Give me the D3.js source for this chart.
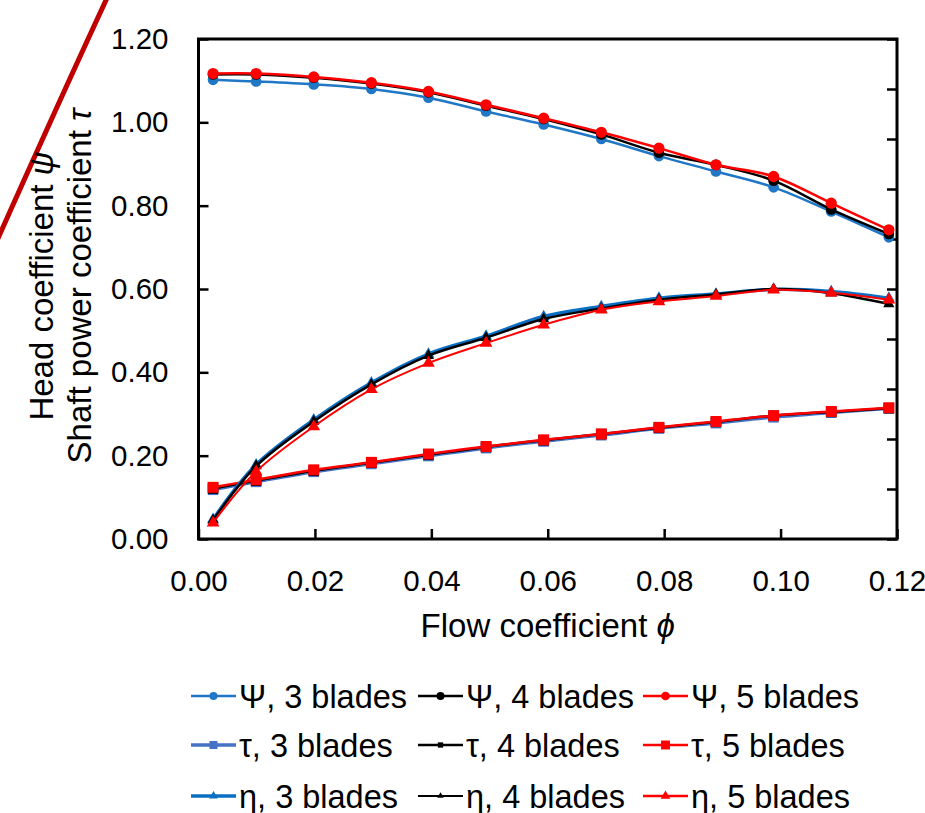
<!DOCTYPE html>
<html>
<head>
<meta charset="utf-8">
<script src="https://cdn.jsdelivr.net/npm/d3@7/dist/d3.min.js"></script>
<style>
  body { margin: 0; background: #fff; }
  text { font-family: "Liberation Sans", Arial, sans-serif; fill: #000; }
</style>
</head>
<body>
<div id="chart"></div>
<script>
// flow coefficient at each measured point
var phi = [0.0025, 0.0099, 0.0198, 0.0297, 0.0395, 0.0494, 0.0593, 0.0692, 0.0791, 0.0889, 0.0988, 0.1087, 0.1186];

// head coefficient psi
var psi3 = [1.102, 1.098, 1.091, 1.080, 1.059, 1.026, 0.995, 0.960, 0.919, 0.882, 0.844, 0.786, 0.724];
var psi4 = [1.115, 1.115, 1.107, 1.093, 1.072, 1.040, 1.008, 0.971, 0.927, 0.898, 0.860, 0.791, 0.732];
var psi5 = [1.117, 1.117, 1.109, 1.095, 1.074, 1.042, 1.010, 0.976, 0.938, 0.898, 0.870, 0.806, 0.742];

// shaft power coefficient tau
var tau3 = [0.118, 0.137, 0.161, 0.180, 0.199, 0.218, 0.234, 0.249, 0.265, 0.278, 0.292, 0.303, 0.313];
var tau4 = [0.121, 0.140, 0.164, 0.183, 0.202, 0.221, 0.237, 0.252, 0.267, 0.281, 0.296, 0.305, 0.314];
var tau5 = [0.124, 0.142, 0.166, 0.184, 0.204, 0.222, 0.238, 0.252, 0.268, 0.282, 0.296, 0.306, 0.315];

// efficiency eta
var eta3 = [0.047, 0.178, 0.286, 0.375, 0.444, 0.487, 0.534, 0.558, 0.578, 0.588, 0.599, 0.594, 0.578];
var eta4 = [0.045, 0.175, 0.282, 0.371, 0.440, 0.483, 0.528, 0.553, 0.574, 0.587, 0.600, 0.590, 0.564];
var eta5 = [0.039, 0.162, 0.270, 0.359, 0.422, 0.470, 0.514, 0.550, 0.570, 0.583, 0.598, 0.591, 0.574];

var xTicks = [0, 0.02, 0.04, 0.06, 0.08, 0.10, 0.12];
var yTicks = [0, 0.2, 0.4, 0.6, 0.8, 1.0, 1.2];
var y2Ticks = [0, 0.1, 0.2, 0.3, 0.4, 0.5, 0.6, 0.7, 0.8, 0.9, 1.0];

var series = [
  { label: "\u03A8, 3 blades", values: psi3, color: "#1f77c6", shape: d3.symbolCircle, size: 90, lw: 2.5, legSize: 50, legLw: 2.5 },
  { label: "\u03A8, 4 blades", values: psi4, color: "#000000", shape: d3.symbolCircle, size: 90, lw: 2.5, legSize: 50, legLw: 2.5 },
  { label: "\u03A8, 5 blades", values: psi5, color: "#ff0000", shape: d3.symbolCircle, size: 100, lw: 2.5, legSize: 60, legLw: 2.5 },
  { label: "\u03C4, 3 blades", values: tau3, color: "#4472c4", shape: d3.symbolSquare, size: 110, lw: 3, legSize: 64, legLw: 3.5 },
  { label: "\u03C4, 4 blades", values: tau4, color: "#000000", shape: d3.symbolSquare, size: 110, lw: 2.5, legSize: 28, legLw: 2.5 },
  { label: "\u03C4, 5 blades", values: tau5, color: "#ff0000", shape: d3.symbolSquare, size: 120, lw: 2.5, legSize: 80, legLw: 2.5 },
  { label: "\u03B7, 3 blades", values: eta3, color: "#0a6fc2", shape: d3.symbolTriangle, size: 60, lw: 3.5, legSize: 32, legLw: 3.5 },
  { label: "\u03B7, 4 blades", values: eta4, color: "#000000", shape: d3.symbolTriangle, size: 55, lw: 2.5, legSize: 18, legLw: 2 },
  { label: "\u03B7, 5 blades", values: eta5, color: "#ff0000", shape: d3.symbolTriangle, size: 70, lw: 2, legSize: 40, legLw: 2.5 }
];

var width = 925, height = 813;
var plot = { left: 198.5, right: 897, top: 39, bottom: 539 };

var svg = d3.select("#chart").append("svg")
  .attr("width", width)
  .attr("height", height);

svg.append("rect").attr("width", width).attr("height", height).attr("fill", "#fff");

// decorative arc from the neighbouring figure
svg.append("path")
  .attr("d", "M107,-2 Q62,95 -5,245")
  .attr("fill", "none")
  .attr("stroke", "#c00000")
  .attr("stroke-width", 5);

var x = d3.scaleLinear().domain([0, 0.12]).range([plot.left, plot.right]);
var y = d3.scaleLinear().domain([0, 1.2]).range([plot.bottom, plot.top]);
var y2 = d3.scaleLinear().domain([0, 1]).range([plot.bottom, plot.top]);

// axes with inward ticks
var xAxis = svg.append("g")
  .attr("transform", "translate(0," + plot.bottom + ")")
  .call(d3.axisBottom(x).tickValues(xTicks).tickFormat(d3.format(".2f")).tickSize(-10).tickPadding(31));

var yAxis = svg.append("g")
  .attr("transform", "translate(" + plot.left + ",0)")
  .call(d3.axisLeft(y).tickValues(yTicks).tickFormat(d3.format(".2f")).tickSize(-10).tickPadding(30));

var y2Axis = svg.append("g")
  .attr("transform", "translate(" + plot.right + ",0)")
  .call(d3.axisLeft(y2).tickValues(y2Ticks).tickFormat("").tickSize(10));

[xAxis, yAxis, y2Axis].forEach(function(a) {
  a.select(".domain").remove();
  a.selectAll(".tick line").attr("stroke", "#000").attr("stroke-width", 2.5);
  a.selectAll(".tick text")
    .style("font-family", "'Liberation Sans', Arial, sans-serif")
    .attr("font-size", 29.5)
    .attr("fill", "#000");
});

svg.append("rect")
  .attr("x", plot.left)
  .attr("y", plot.top)
  .attr("width", plot.right - plot.left)
  .attr("height", plot.bottom - plot.top)
  .attr("fill", "none")
  .attr("stroke", "#000")
  .attr("stroke-width", 3);

// axis titles
var xTitle = svg.append("text")
  .attr("x", (plot.left + plot.right) / 2)
  .attr("y", 637)
  .attr("text-anchor", "middle")
  .attr("font-size", 33);
xTitle.append("tspan").text("Flow coefficient ");
xTitle.append("tspan").attr("font-style", "italic").text("\u03D5");

var cy = (plot.top + plot.bottom) / 2 - 3;
var t1 = svg.append("text")
  .attr("transform", "translate(53," + cy + ") rotate(-90)")
  .attr("text-anchor", "middle")
  .attr("font-size", 33);
t1.append("tspan").text("Head coefficient ");
t1.append("tspan").attr("font-style", "italic").text("\u03C8");

var t2 = svg.append("text")
  .attr("transform", "translate(91," + cy + ") rotate(-90)")
  .attr("text-anchor", "middle")
  .attr("font-size", 33);
t2.append("tspan").text("Shaft power coefficient ");
t2.append("tspan").attr("font-style", "italic").text("\u03C4");

// curves
var line = d3.line()
  .x(function(d) { return x(d[0]); })
  .y(function(d) { return y(d[1]); })
  .curve(d3.curveCardinal.tension(0));

var groups = svg.append("g").selectAll(".series")
  .data(series)
  .enter()
  .append("g")
  .attr("class", "series");

groups.append("path")
  .attr("fill", "none")
  .attr("stroke", function(d) { return d.color; })
  .attr("stroke-width", function(d) { return d.lw; })
  .attr("d", function(d) { return line(d3.zip(phi, d.values)); });

groups.selectAll(".pt")
  .data(function(d) {
    return d.values.map(function(v, i) { return { x: phi[i], y: v, s: d }; });
  })
  .enter()
  .append("path")
  .attr("class", "pt")
  .attr("transform", function(d) { return "translate(" + x(d.x) + "," + y(d.y) + ")"; })
  .attr("d", function(d) { return d3.symbol().type(d.s.shape).size(d.s.size)(); })
  .attr("fill", function(d) { return d.s.color; });

// legend
var legCols = [191, 418, 643];
var legRows = [696, 745, 796];
var legend = svg.append("g").selectAll(".leg")
  .data(series)
  .enter()
  .append("g")
  .attr("class", "leg")
  .attr("transform", function(d, i) {
    return "translate(" + legCols[i % 3] + "," + legRows[Math.floor(i / 3)] + ")";
  });

legend.append("line")
  .attr("x1", 0).attr("x2", 45)
  .attr("stroke", function(d) { return d.color; })
  .attr("stroke-width", function(d) { return d.legLw; });

legend.append("path")
  .attr("transform", "translate(22.5,0)")
  .attr("d", function(d) { return d3.symbol().type(d.shape).size(d.legSize)(); })
  .attr("fill", function(d) { return d.color; });

legend.append("text")
  .attr("x", 48)
  .attr("dy", "0.36em")
  .attr("font-size", 32.5)
  .text(function(d) { return d.label; });
</script>
</body>
</html>
